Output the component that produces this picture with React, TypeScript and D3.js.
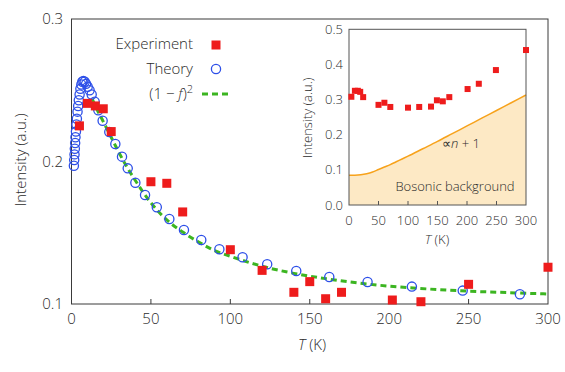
import * as d3 from "d3";

// main panel: measured intensity
const expTemps = [5, 10, 15, 20, 25, 50, 60, 70, 100, 120, 140, 150, 160, 170, 202, 220, 250, 300];
const expIntensity = [0.225, 0.2408, 0.239, 0.237, 0.221, 0.1858, 0.1847, 0.1646, 0.1381, 0.1236, 0.1082, 0.1157, 0.1037, 0.1082, 0.1028, 0.1016, 0.1138, 0.1258];

// main panel: theory (open circles)
const theoryTemps = [
  1.5, 1.7, 1.9, 2.1, 2.3, 2.5, 2.8, 3.1, 3.4, 3.8, 4.2, 4.6, 5.1, 5.6, 6.2, 6.8, 7.5,
  8.3, 9.2, 10.2, 11.4, 12.7, 14.6, 16.9, 19.6, 23.8, 27.6, 31.8, 35.4, 40.2, 46.3, 53.7,
  61.6, 70.8, 81.7, 93.1, 107.7, 123.2, 141.5, 162.3, 186.4, 214.3, 246.3, 282.3,
];
const theoryIntensity = [
  0.197, 0.201, 0.205, 0.209, 0.213, 0.217, 0.221, 0.226, 0.23, 0.235, 0.239, 0.243, 0.247, 0.251, 0.254, 0.256, 0.2565,
  0.256, 0.2545, 0.2525, 0.25, 0.247, 0.242, 0.236, 0.2286, 0.2207, 0.2123, 0.2034, 0.1952, 0.1851, 0.1765, 0.1679,
  0.1596, 0.1519, 0.1449, 0.1384, 0.1328, 0.1279, 0.1232, 0.1189, 0.1154, 0.1122, 0.1094, 0.1068,
];

// main panel: (1 - f)^2 dashed curve
const fitTemps = [13, 15, 20, 25, 30, 35, 40, 50, 60, 70, 80, 90, 100, 120, 140, 160, 180, 200, 225, 250, 275, 300];
const fitIntensity = [0.244, 0.239, 0.228, 0.217, 0.206, 0.196, 0.187, 0.171, 0.159, 0.1505, 0.1435, 0.1375, 0.1335, 0.1265, 0.1215, 0.1178, 0.1148, 0.1125, 0.1105, 0.109, 0.108, 0.107];

const mainXTicks = [0, 50, 100, 150, 200, 250, 300];
const mainYTicks = [0.1, 0.2, 0.3];

// inset: measured intensity and bosonic background
const insetTemps = [4, 10, 15, 19, 24, 50, 60, 70, 100, 119, 139, 149, 159, 170, 201, 220, 249, 300];
const insetIntensity = [0.308, 0.325, 0.325, 0.322, 0.307, 0.285, 0.291, 0.279, 0.277, 0.279, 0.28, 0.298, 0.295, 0.307, 0.33, 0.345, 0.384, 0.441];

const bgTemps = [0, 10, 20, 30, 40, 50, 60, 70, 80, 90, 100, 125, 150, 175, 200, 225, 250, 275, 300];
const bgIntensity = [0.085, 0.085, 0.086, 0.089, 0.094, 0.101, 0.108, 0.115, 0.123, 0.131, 0.139, 0.16, 0.181, 0.203, 0.225, 0.247, 0.269, 0.291, 0.313];

const insetXTicks = [0, 50, 100, 150, 200, 250, 300];
const insetYTicks = [0, 0.1, 0.2, 0.3, 0.4, 0.5];

const W = 565;
const H = 372;
const font = "'Open Sans', 'DejaVu Sans', sans-serif";
const ink = "#2b2b2b";
const red = "#ee1c1c";
const blue = "#2d4fe8";
const green = "#3cb521";
const orange = "#f7a21b";

export default function App() {
  const x = d3.scaleLinear().domain([0, 300]).range([71.5, 548]);
  const y = d3.scaleLinear().domain([0.1, 0.3]).range([304, 19]);

  const ix = d3.scaleLinear().domain([0, 300]).range([349, 526]);
  const iy = d3.scaleLinear().domain([0, 0.5]).range([205, 29.3]);

  const fitLine = d3
    .line<number>()
    .x((_, i) => x(fitTemps[i]))
    .y((d) => y(d))
    .curve(d3.curveMonotoneX)(fitIntensity);

  const bgLine = d3
    .line<number>()
    .x((_, i) => ix(bgTemps[i]))
    .y((d) => iy(d))
    .curve(d3.curveMonotoneX)(bgIntensity);

  const bgArea = d3
    .area<number>()
    .x((_, i) => ix(bgTemps[i]))
    .y0(iy(0))
    .y1((d) => iy(d))
    .curve(d3.curveMonotoneX)(bgIntensity);

  const sq = 9;
  const isq = 6;

  return (
    <svg
      width={W}
      height={H}
      style={{ position: "absolute", left: 0, top: 0, background: "#fff" }}
      fontFamily={font}
      fontWeight={300}
    >
      {/* main frame */}
      <rect x={71.5} y={19} width={548 - 71.5} height={304 - 19} fill="none" stroke="#3a3a3a" strokeWidth={1} />
      {mainXTicks.slice(1, -1).map((t) => (
        <line key={t} x1={x(t)} x2={x(t)} y1={304} y2={299} stroke="#3a3a3a" />
      ))}
      {mainXTicks.map((t) => (
        <text key={t} x={x(t)} y={324} fontSize={15} fill={ink} textAnchor="middle">
          {t}
        </text>
      ))}
      {mainYTicks.map((t) => (
        <text key={t} x={63} y={y(t) + 5} fontSize={15} fill={ink} textAnchor="end">
          {t.toFixed(1)}
        </text>
      ))}
      <text x={312} y={350} fontSize={15} fill={ink} textAnchor="middle">
        <tspan fontStyle="italic">T</tspan> (K)
      </text>
      <text transform="translate(26,160) rotate(-90)" fontSize={15} fill={ink} textAnchor="middle">
        Intensity (a.u.)
      </text>

      {/* inset */}
      <path d={bgArea ?? ""} fill="#fde9c5" />
      <path d={bgLine ?? ""} fill="none" stroke={orange} strokeWidth={1.5} />
      <rect x={349} y={29.3} width={526 - 349} height={205 - 29.3} fill="none" stroke="#555" strokeWidth={1} />
      {insetXTicks.slice(1, -1).map((t) => (
        <line key={t} x1={ix(t)} x2={ix(t)} y1={205} y2={201} stroke="#555" />
      ))}
      {insetXTicks.map((t) => (
        <text key={t} x={ix(t)} y={225} fontSize={13} fill={ink} textAnchor="middle">
          {t}
        </text>
      ))}
      {insetYTicks.map((t) => (
        <text key={t} x={343} y={iy(t) + 4.5} fontSize={13} fill={ink} textAnchor="end">
          {t.toFixed(1)}
        </text>
      ))}
      <text x={437} y={244} fontSize={13} fill={ink} textAnchor="middle">
        <tspan fontStyle="italic">T</tspan> (K)
      </text>
      <text transform="translate(312,118) rotate(-90)" fontSize={13} fill={ink} textAnchor="middle">
        Intensity (a.u.)
      </text>
      <text x={442} y={148} fontSize={13} fill={ink}>
        ∝<tspan fontStyle="italic">n</tspan> + 1
      </text>
      <text x={455} y={191} fontSize={13} fill={ink} textAnchor="middle">
        Bosonic background
      </text>
      {insetIntensity.map((v, i) => (
        <rect key={i} x={ix(insetTemps[i]) - isq / 2} y={iy(v) - isq / 2} width={isq} height={isq} fill={red} />
      ))}

      {/* main data */}
      <path d={fitLine ?? ""} fill="none" stroke={green} strokeWidth={3} strokeDasharray="6,4" />
      {theoryIntensity.map((v, i) => (
        <circle key={i} cx={x(theoryTemps[i])} cy={y(v)} r={4.6} fill="none" stroke={blue} strokeWidth={1.3} />
      ))}
      {expIntensity.map((v, i) => (
        <rect key={i} x={x(expTemps[i]) - sq / 2} y={y(v) - sq / 2} width={sq} height={sq} fill={red} />
      ))}

      {/* legend */}
      <text x={193} y={49} fontSize={15} fill={ink} textAnchor="end">
        Experiment
      </text>
      <rect x={216 - sq / 2} y={45 - sq / 2} width={sq} height={sq} fill={red} />
      <text x={193} y={74} fontSize={15} fill={ink} textAnchor="end">
        Theory
      </text>
      <circle cx={216} cy={69} r={4.6} fill="none" stroke={blue} strokeWidth={1.3} />
      <text x={193} y={99} fontSize={15} fill={ink} textAnchor="end">
        (1 − <tspan fontStyle="italic">f</tspan>)
        <tspan dy={-6} fontSize={11}>2</tspan>
      </text>
      <line x1={202} x2={231} y1={94} y2={94} stroke={green} strokeWidth={3} strokeDasharray="6,4" />
    </svg>
  );
}
